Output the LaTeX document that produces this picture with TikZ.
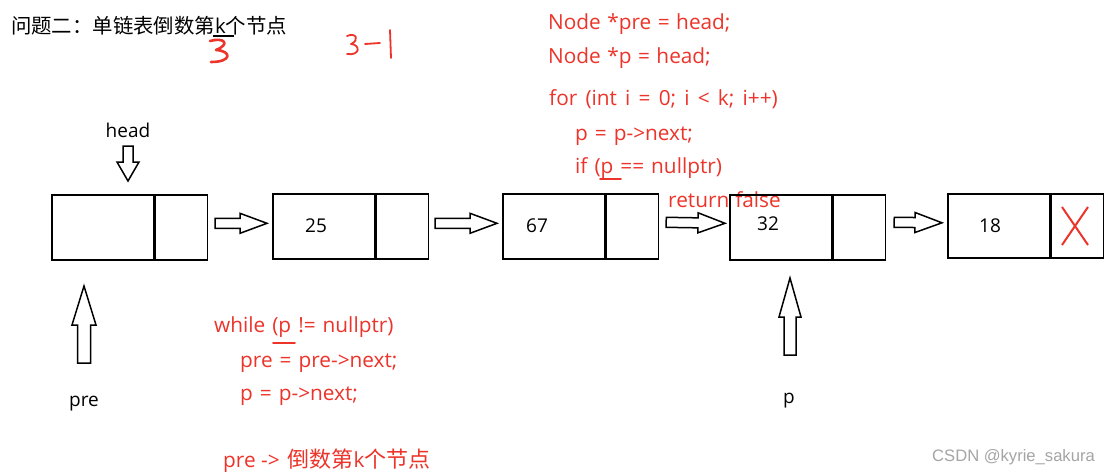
\documentclass[tikz,border=0pt]{standalone}
\usepackage{fontspec}
\setmainfont{Open Sans}
\newfontfamily\cjk{Noto Sans CJK SC}
\newfontfamily\wmfont{Liberation Sans}
\usetikzlibrary{calc}
\definecolor{codered}{RGB}{236,52,42}
\definecolor{wmgray}{RGB}{165,165,165}
\newcommand{\widesp}[1]{\spaceskip=#1\relax}
\begin{document}
\begin{tikzpicture}[x=1pt,y=-1pt,
  datacell/.style={draw, line width=1.6pt, minimum width=102pt, minimum height=65pt, inner sep=0pt, anchor=north west},
  nextcell/.style={draw, line width=1.6pt, minimum width=52pt, minimum height=65pt, inner sep=0pt, anchor=north west},
  val/.style={font=\fontsize{19}{22}\selectfont, anchor=base, inner sep=0pt},
  lbl/.style={font=\fontsize{19}{22}\selectfont, anchor=base, inner sep=0pt},
  code/.style={text=codered, font=\fontsize{20.8}{24}\selectfont, anchor=base west, inner sep=0pt},
  hand/.style={draw=codered, line width=2pt, line cap=round, line join=round},
  barrow/.style n args={3}{draw, line width=1.5pt, line join=miter, to path={let \p1=(\tikztostart), \p2=(\tikztotarget), \n1={atan2(\y2-\y1,\x2-\x1)} in
     ($(\p1)+(\n1+90:#1)$) -- ($(\p2)+(\n1+180:#3)+(\n1+90:#1)$) -- ($(\p2)+(\n1+180:#3)+(\n1+90:#2)$) -- (\p2)
     -- ($(\p2)+(\n1+180:#3)+(\n1-90:#2)$) -- ($(\p2)+(\n1+180:#3)+(\n1-90:#1)$) -- ($(\p1)+(\n1-90:#1)$) -- cycle}}
]
\fill[white] (0,0) rectangle (1111,474);
\useasboundingbox (0,0) rectangle (1111,474);

% title
\node[font=\fontsize{20.4}{24}\selectfont, anchor=base west, inner sep=0pt] (title) at (11,33) {{\cjk 问题二：单链表倒数第}k{\cjk 个节点}};
\draw[line width=1.6pt] (213,36) -- (234,36);
\draw[hand, line width=2.6pt] (210,41) .. controls (224,37) and (231,44) .. (216,50) .. controls (232,51) and (232,62) .. (211,62);
\draw[hand, line width=1.8pt] (347,36) .. controls (356,32) and (360,40) .. (351,44) .. controls (361,45) and (360,56) .. (347,54);
\draw[hand, line width=1.8pt] (365,44) -- (380,43);
\draw[hand, line width=1.8pt] (390,30) -- (391,58);

% red code top
\node[code] (c1) at (548,29) {\widesp{6.5pt}Node *pre = head;};
\node[code] (c2) at (548,63) {\widesp{6.5pt}Node *p = head;};
\node[code] (c3) at (549,105) {\widesp{8.2pt}for (int i = 0; i < k; i++)};
\node[code] (c4) at (575,140) {\widesp{7pt}p = p->next;};
\node[code] (c5) at (575,173) {\widesp{7pt}if (p == nullptr)};
\draw[hand, line width=1.8pt] (600,179) -- (621,179);
\node[code] (c6) at (668,207) {\widesp{6pt}return false};

% list nodes
\node[datacell] (d1) at (51,194) {};
\node[nextcell] (n1) at (d1.north east) {};
\node[datacell] (d2) at (272,193) {};
\node[nextcell] (n2) at (d2.north east) {};
\node[datacell] (d3) at (502,193) {};
\node[nextcell] (n3) at (d3.north east) {};
\node[datacell] (d4) at (729,194) {};
\node[nextcell] (n4) at (d4.north east) {};
\node[datacell, minimum height=64pt] (d5) at (947,193) {};
\node[nextcell, minimum height=64pt] (n5) at (d5.north east) {};

\node[val] (v2) at (316,232) {25};
\node[val] (v3) at (537,232) {67};
\node[val] (v4) at (768,230) {32};
\node[val] (v5) at (990,232) {18};
\draw[codered, line width=2pt] (1062,207) -- (1088,245) (1088,207) -- (1062,245);

% arrows between nodes
\draw[barrow={5pt}{10pt}{27pt}] ($(n1.east)+(7,-4)$) to ($(d2.west)+(-5,-3)$);
\draw[barrow={5pt}{10pt}{27pt}] ($(n2.east)+(6,-3)$) to ($(d3.west)+(-5,-3)$);
\draw[barrow={5pt}{10pt}{27pt}] ($(n3.east)+(7,-4)$) to ($(d4.west)+(-4,-4)$);
\draw[barrow={5pt}{10pt}{27pt}] ($(n4.east)+(8,-5)$) to ($(d5.west)+(-5,-3)$);

% head pointer
\node[lbl] (head) at (128,137) {head};
\coordinate (htail) at (128,146);
\coordinate (htip) at (128,181);
\draw[barrow={5pt}{11pt}{19pt}] (htail) to (htip);

% pre pointer
\coordinate (pretail) at (84,363);
\coordinate (pretip) at (84,286);
\draw[barrow={6.5pt}{12pt}{39pt}] (pretail) to (pretip);
\node[lbl] (pre) at (84,406) {pre};

% p pointer
\coordinate (ptail) at (790,355);
\coordinate (ptip) at (790,278);
\draw[barrow={6pt}{11pt}{39pt}] (ptail) to (ptip);
\node[lbl] (p) at (789,403) {p};

% red code bottom
\node[code] (w1) at (214,332) {\widesp{7pt}while (p != nullptr)};
\draw[hand, line width=1.8pt] (273,343) -- (295,343);
\node[code] (w2) at (240,367) {\widesp{7pt}pre = pre->next;};
\node[code] (w3) at (240,400) {\widesp{7pt}p = p->next;};
\node[code] (w4) at (223,467) {pre ->\hspace{8pt}{\cjk\fontsize{22}{24}\selectfont 倒数第}k{\cjk\fontsize{22}{24}\selectfont 个节点}};

% watermark
\node[font=\wmfont\fontsize{16.6}{19}\selectfont, text=wmgray, anchor=base west, inner sep=0pt] (wm) at (932,461) {CSDN @kyrie\_sakura};
\end{tikzpicture}
\end{document}
